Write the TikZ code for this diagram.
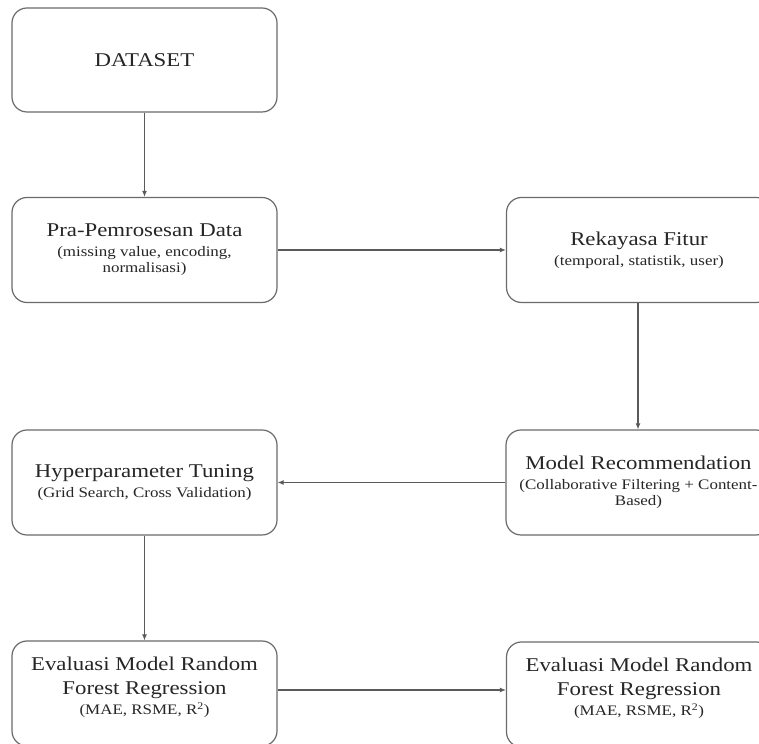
\documentclass[tikz,border=0pt]{standalone}
\usepackage{fontspec}
\setmainfont{Liberation Serif}[FakeStretch=1.17]
\usetikzlibrary{arrows.meta}
\definecolor{boxline}{HTML}{6A6A6A}
\definecolor{arrowline}{HTML}{5A5A5A}
\definecolor{txt}{HTML}{262626}
\newcommand{\ttl}{\fontsize{19.5}{24}\selectfont}
\newcommand{\sbt}{\fontsize{14.5}{24}\selectfont}
\begin{document}
\begin{tikzpicture}[x=1pt,y=1pt,
  flowbox/.style={draw=boxline,line width=1.2pt,rounded corners=15pt,fill=white,
    minimum width=265pt,minimum height=105pt,align=center,text=txt,inner sep=2pt,
    font=\fontsize{14.5}{24}\selectfont},
  conn/.style={draw=arrowline,line width=1.1pt,-{Latex[length=6pt,width=5pt]}}]
\useasboundingbox (0,0) rectangle (759,743);
\node[flowbox,minimum height=104pt] (d) at (144.5,683) {\ttl DATASET};
\node[flowbox] (p) at (144.5,493) {\ttl Pra-Pemrosesan Data\\[-4pt]\sbt (missing value, encoding,\\[-8pt]\sbt normalisasi)};
\node[flowbox] (r) at (639,493) {\ttl Rekayasa Fitur\\[-4pt]\sbt (temporal, statistik, user)};
\node[flowbox] (m) at (638.5,260.5) {\ttl Model Recommendation\\[-4pt]\sbt (Collaborative Filtering + Content-\\[-8pt]\sbt Based)};
\node[flowbox] (h) at (144.5,260.5) {\ttl Hyperparameter Tuning\\[-4pt]\sbt (Grid Search, Cross Validation)};
\node[flowbox,text depth=16pt] (e1) at (144.5,49.5) {\ttl Evaluasi Model Random\\\ttl Forest Regression\\[-4pt]\sbt (MAE, RSME, R\textsuperscript{2})};
\node[flowbox,text depth=16pt] (e2) at (639,48.5) {\ttl Evaluasi Model Random\\\ttl Forest Regression\\[-4pt]\sbt (MAE, RSME, R\textsuperscript{2})};
\draw[conn] (d) -- (p);
\draw[conn] (p) -- (r);
\draw[conn] (r.south -| 638,0) -- (m.north -| 638,0);
\draw[conn] (m) -- (h);
\draw[conn] (h) -- (e1);
\draw[conn] (e1.east |- 0,53) -- (e2.west |- 0,53);
\end{tikzpicture}
\end{document}
